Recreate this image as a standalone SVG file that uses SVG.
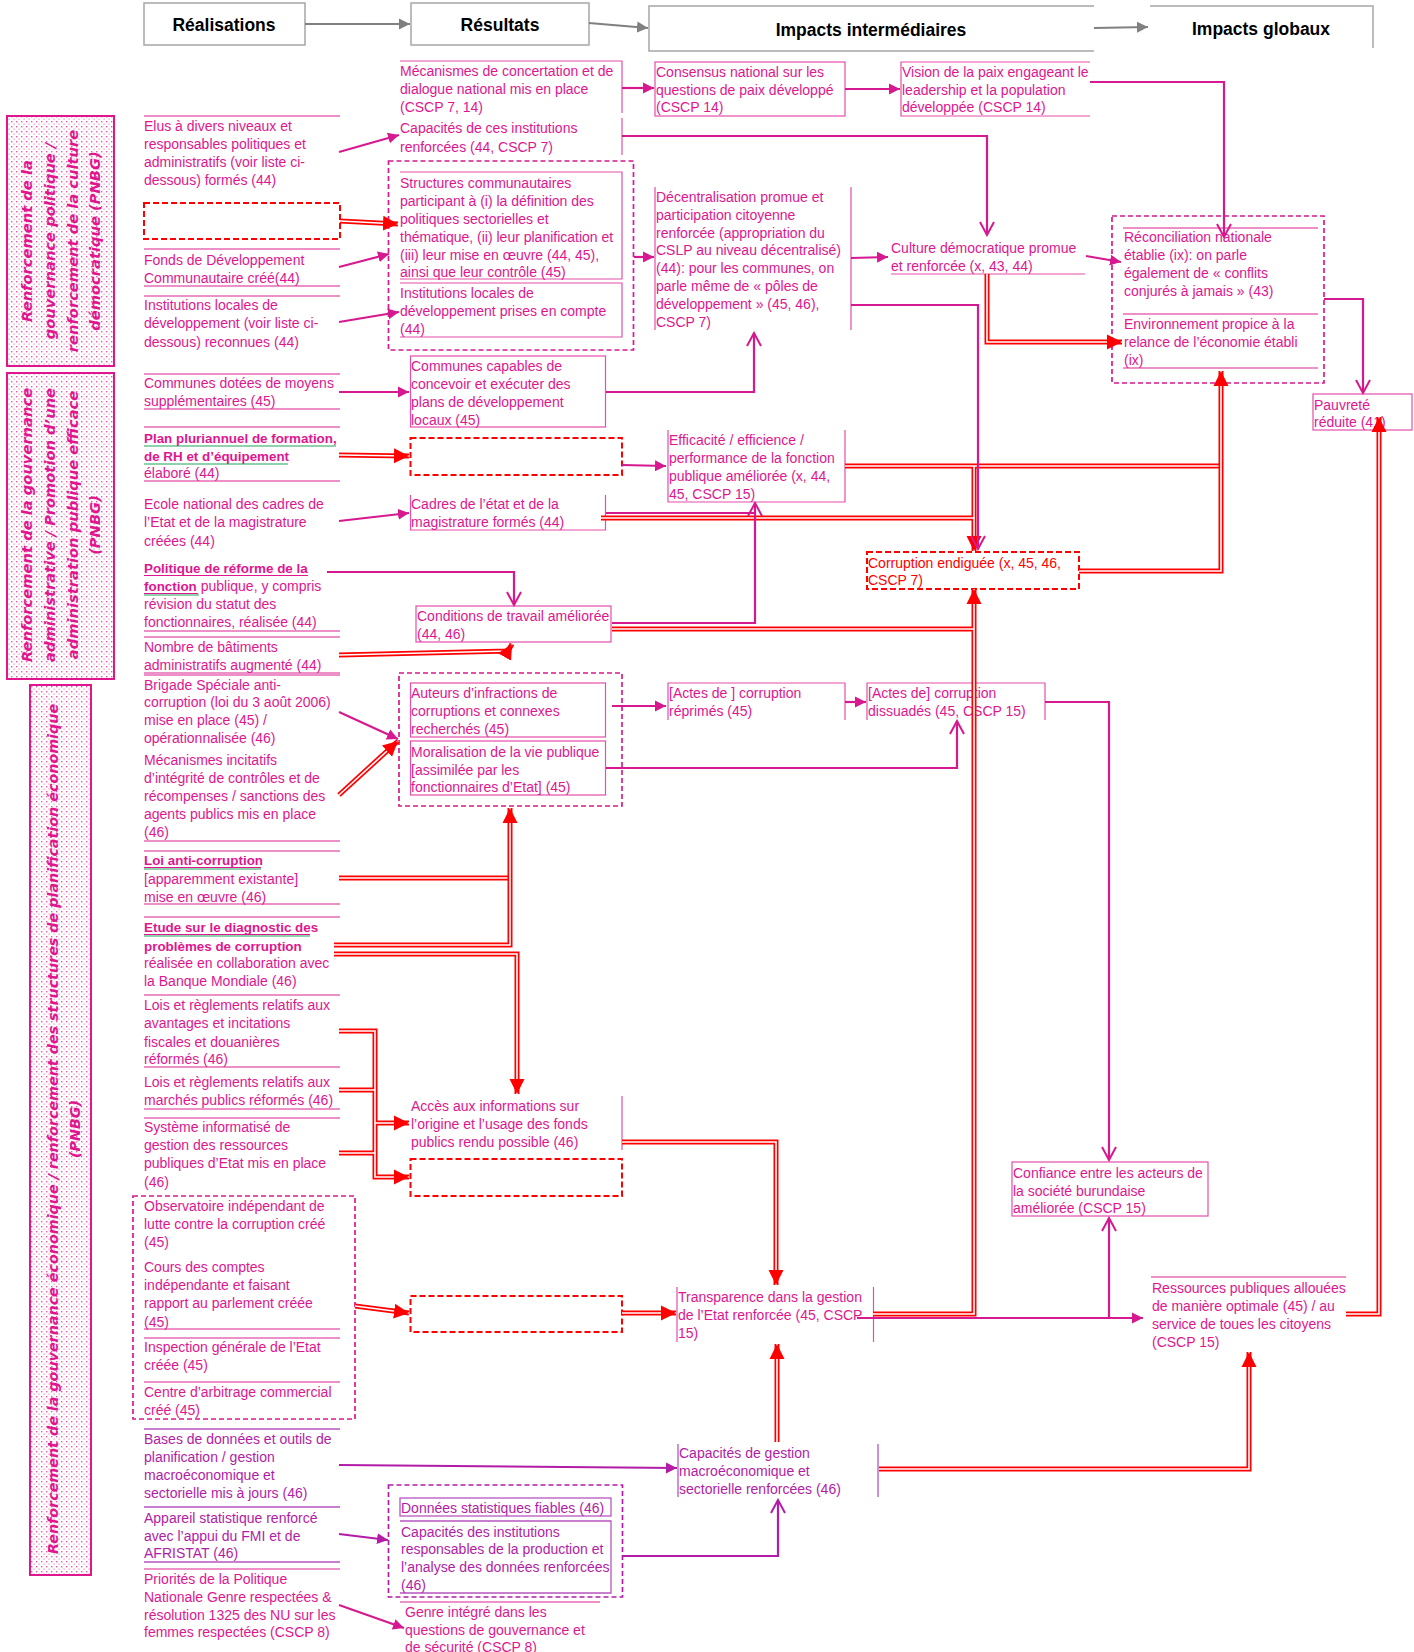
<svg xmlns="http://www.w3.org/2000/svg" width="1414" height="1652" viewBox="0 0 1414 1652">
<style>
.t{font-family:"Liberation Sans",Arial,sans-serif;font-size:14px;fill:#E0168F}
.pu{fill:#B21CA6}
.rt{fill:#FF0000}
.b{font-weight:bold;font-size:13.4px}
.hd{font-family:"Liberation Sans",Arial,sans-serif;font-size:17.5px;font-weight:bold;fill:#000;text-anchor:middle}
.bt{font-family:"DejaVu Sans",sans-serif;font-size:14.7px;font-weight:bold;font-style:italic;fill:#E0168F;text-anchor:middle}
.bt3{font-size:14.3px}
.ln{stroke:#E86CB6;stroke-width:1.3;fill:none}
.lp{stroke:#B856C0;stroke-width:1.3;fill:none}
.bx{stroke:#E44FA8;stroke-width:1.2;fill:none}
.hb{stroke:#A6A6A6;stroke-width:1.5;fill:#fff}
.dm{stroke:#D6198F;stroke-width:1.7;stroke-dasharray:5 3;fill:none}
.dp{stroke:#B21CA6;stroke-width:1.7;stroke-dasharray:5 3;fill:none}
.dr{stroke:#FF0000;stroke-width:2;stroke-dasharray:6 3;fill:none}
.m{stroke:#D6198F;stroke-width:2.2;fill:none}
.p{stroke:#B21CA6;stroke-width:2.2;fill:none}
.g{stroke:#808080;stroke-width:2.2;fill:none}
.r{stroke:#FF0000;stroke-width:5;fill:none}
.w{stroke:#FFFFFF;stroke-width:1.6;fill:none}
.h{stroke:none;fill:none}
.ug{stroke:#1FA35A;stroke-width:1.2}
.um{stroke:#E0168F;stroke-width:1.2}
</style>
<defs>
<pattern id="dots" width="5" height="5" patternUnits="userSpaceOnUse">
<rect width="5" height="5" fill="#fff"/>
<rect x="1" y="1" width="1.4" height="1.4" fill="#E65AAE"/>
<rect x="3.5" y="3.5" width="1.2" height="1.2" fill="#EE8CC6"/>
</pattern>
<marker id="mf" markerUnits="userSpaceOnUse" markerWidth="12" markerHeight="12" refX="11" refY="6" orient="auto"><path d="M0,0.5 L11,6 L0,11.5 Z" fill="#D6198F"/></marker>
<marker id="mo" markerUnits="userSpaceOnUse" markerWidth="16" markerHeight="18" refX="14" refY="8" orient="auto"><path d="M1,1 L14,8 L1,15" fill="none" stroke="#D6198F" stroke-width="2"/></marker>
<marker id="pf" markerUnits="userSpaceOnUse" markerWidth="12" markerHeight="12" refX="11" refY="6" orient="auto"><path d="M0,0.5 L11,6 L0,11.5 Z" fill="#B21CA6"/></marker>
<marker id="po" markerUnits="userSpaceOnUse" markerWidth="16" markerHeight="18" refX="14" refY="8" orient="auto"><path d="M1,1 L14,8 L1,15" fill="none" stroke="#B21CA6" stroke-width="2"/></marker>
<marker id="rf" markerUnits="userSpaceOnUse" markerWidth="16" markerHeight="16" refX="15" refY="8" orient="auto"><path d="M0,0.5 L15,8 L0,15.5 Z" fill="#FF0000"/></marker>
<marker id="gf" markerUnits="userSpaceOnUse" markerWidth="12" markerHeight="12" refX="11" refY="6" orient="auto"><path d="M0,0.5 L11,6 L0,11.5 Z" fill="#808080"/></marker>
</defs>
<rect width="1414" height="1652" fill="#fff"/>

<g id="header">
<rect class="hb" x="144" y="3" width="161" height="42"/>
<text class="hd" x="224" y="31">Réalisations</text>
<rect class="hb" x="411" y="3" width="178" height="42"/>
<text class="hd" x="500" y="31">Résultats</text>
<path class="hb" fill="none" d="M1094,6 L649,6 L649,51 L1094,51"/>
<text class="hd" x="871" y="36">Impacts intermédiaires</text>
<path class="hb" fill="none" d="M1150,6 L1373,6 L1373,48"/>
<text class="hd" x="1261" y="35">Impacts globaux</text>
<path class="g" d="M305,24 L410,24" marker-end="url(#gf)"/>
<path class="g" d="M589,23 L648,28" marker-end="url(#gf)"/>
<path class="g" d="M1094,28 L1148,27" marker-end="url(#gf)"/>
</g>

<g id="band1">
<rect x="7" y="116" width="107" height="250" fill="url(#dots)" stroke="#E0168F" stroke-width="2"/>
<text class="bt" transform="translate(0,241) rotate(-90)"><tspan x="0" y="32">Renforcement de la</tspan><tspan x="0" y="55">gouvernance politique /</tspan><tspan x="0" y="78">renforcement de la culture</tspan><tspan x="0" y="100">démocratique (PNBG)</tspan></text>
</g>
<g id="band2">
<rect x="7" y="373" width="107" height="306" fill="url(#dots)" stroke="#E0168F" stroke-width="2"/>
<text class="bt" transform="translate(0,525) rotate(-90)"><tspan x="0" y="32">Renforcement de la gouvernance</tspan><tspan x="0" y="55">administrative / Promotion d’une</tspan><tspan x="0" y="78">administration publique efficace</tspan><tspan x="0" y="100">(PNBG)</tspan></text>
</g>
<g id="band3">
<rect x="30" y="685" width="61" height="890" fill="url(#dots)" stroke="#E0168F" stroke-width="2"/>
<text class="bt bt3" transform="translate(0,1129) rotate(-90)"><tspan x="0" y="58">Renforcement de la gouvernance économique / renforcement des structures de planification économique</tspan><tspan x="0" y="80">(PNBG)</tspan></text>
</g>

<g id="realisations-lines">
<path class="ln" d="M144,116 H340 M144,249 H340 M144,286 H340 M144,296 H340 M144,374 H340 M144,409 H340 M144,427 H340 M144,481 H340 M144,631 H340 M144,637 H340 M144,673 H340 M144,675 H340 M144,841 H340 M144,851 H340 M144,904 H340 M144,917 H340 M144,995 H340 M144,1067 H340 M144,1109 H340 M144,1118 H340 M144,1329 H340 M144,1338 H340 M144,1382 H340"/>
<path class="lp" d="M144,1429 H340 M144,1507 H340 M144,1562 H340"/>
<path class="ln" d="M144,1569 H340"/>
</g>

<g id="n-elus"><text class="t"><tspan x="144" y="131">Elus à divers niveaux et</tspan><tspan x="144" y="149">responsables politiques et</tspan><tspan x="144" y="167">administratifs (voir liste ci-</tspan><tspan x="144" y="185">dessous) formés (44)</tspan></text></g>
<g id="n-vide1"><rect class="dr" x="144" y="203" width="196" height="36"/></g>
<g id="n-fonds"><text class="t"><tspan x="144" y="265">Fonds de Développement</tspan><tspan x="144" y="283">Communautaire créé(44)</tspan></text></g>
<g id="n-instloc"><text class="t"><tspan x="144" y="310">Institutions locales de</tspan><tspan x="144" y="328">développement (voir liste ci-</tspan><tspan x="144" y="347">dessous) reconnues  (44)</tspan></text></g>
<g id="n-communes"><text class="t"><tspan x="144" y="388">Communes dotées de moyens</tspan><tspan x="144" y="406">supplémentaires (45)</tspan></text></g>
<g id="n-plan"><text class="t"><tspan x="144" y="443" class="b">Plan pluriannuel de formation,</tspan><tspan x="144" y="461" class="b">de RH et d’équipement</tspan><tspan x="144" y="478">élaboré (44)</tspan></text>
<path class="ug" d="M144,446 H336"/><path class="ug" d="M144,464 H288"/></g>
<g id="n-ecole"><text class="t"><tspan x="144" y="509">Ecole national des cadres de</tspan><tspan x="144" y="527">l’Etat  et de la magistrature</tspan><tspan x="144" y="546">créées (44)</tspan></text></g>
<g id="n-politique"><text class="t"><tspan x="144" y="573" class="b">Politique de réforme de la</tspan><tspan x="144" y="591" class="b">fonction</tspan><tspan> publique, y compris</tspan><tspan x="144" y="609">révision du statut des</tspan><tspan x="144" y="627">fonctionnaires, réalisée (44)</tspan></text>
<path class="um" d="M144,575.5 H308 M144,593.5 H198"/><path class="ug" d="M144,595 H199"/></g>
<g id="n-batiments"><text class="t"><tspan x="144" y="652">Nombre de bâtiments</tspan><tspan x="144" y="670">administratifs augmenté (44)</tspan></text></g>
<g id="n-brigade"><text class="t"><tspan x="144" y="690">Brigade Spéciale anti-</tspan><tspan x="144" y="707">corruption (loi du 3 août 2006)</tspan><tspan x="144" y="725">mise en place (45) /</tspan><tspan x="144" y="743">opérationnalisée (46)</tspan></text></g>
<g id="n-incitatifs"><text class="t"><tspan x="144" y="765">Mécanismes incitatifs</tspan><tspan x="144" y="783">d’intégrité de contrôles et de</tspan><tspan x="144" y="801">récompenses / sanctions des</tspan><tspan x="144" y="819">agents publics  mis en place</tspan><tspan x="144" y="837">(46)</tspan></text></g>
<g id="n-loi"><text class="t"><tspan x="144" y="865" class="b">Loi anti-corruption</tspan><tspan x="144" y="884">[apparemment existante]</tspan><tspan x="144" y="902">mise en œuvre (46)</tspan></text>
<path class="um" d="M144,867.5 H261"/><path class="ug" d="M144,869 H261"/></g>
<g id="n-etude"><text class="t"><tspan x="144" y="932" class="b">Etude sur le diagnostic des</tspan><tspan x="144" y="951" class="b">problèmes de corruption</tspan><tspan x="144" y="968">réalisée en collaboration avec</tspan><tspan x="144" y="986">la Banque Mondiale (46)</tspan></text>
<path class="um" d="M144,934.5 H310"/><path class="ug" d="M144,936 H310"/></g>
<g id="n-lois-fisc"><text class="t"><tspan x="144" y="1010">Lois et règlements relatifs aux</tspan><tspan x="144" y="1028">avantages et incitations</tspan><tspan x="144" y="1047">fiscales et douanières</tspan><tspan x="144" y="1064">réformés (46)</tspan></text></g>
<g id="n-lois-march"><text class="t"><tspan x="144" y="1087">Lois et règlements relatifs aux</tspan><tspan x="144" y="1105">marchés publics réformés (46)</tspan></text></g>
<g id="n-systeme"><text class="t"><tspan x="144" y="1132">Système informatisé de</tspan><tspan x="144" y="1150">gestion des ressources</tspan><tspan x="144" y="1168">publiques d’Etat mis en place</tspan><tspan x="144" y="1187">(46)</tspan></text></g>
<g id="n-institutions-controle">
<rect class="dm" x="133" y="1196" width="222" height="223"/>
<text class="t"><tspan x="144" y="1211">Observatoire indépendant de</tspan><tspan x="144" y="1229">lutte contre la corruption créé</tspan><tspan x="144" y="1247">(45)</tspan></text>
<text class="t"><tspan x="144" y="1272">Cours des comptes</tspan><tspan x="144" y="1290">indépendante et faisant</tspan><tspan x="144" y="1308">rapport au parlement créée</tspan><tspan x="144" y="1327">(45)</tspan></text>
<text class="t"><tspan x="144" y="1352">Inspection générale de l’Etat</tspan><tspan x="144" y="1370">créée (45)</tspan></text>
<text class="t"><tspan x="144" y="1397">Centre d’arbitrage commercial</tspan><tspan x="144" y="1415">créé (45)</tspan></text>
</g>
<g id="n-bases"><text class="t pu"><tspan x="144" y="1444">Bases de données et outils de</tspan><tspan x="144" y="1462">planification / gestion</tspan><tspan x="144" y="1480">macroéconomique et</tspan><tspan x="144" y="1498">sectorielle mis à jours (46)</tspan></text></g>
<g id="n-appareil"><text class="t pu"><tspan x="144" y="1523">Appareil statistique renforcé</tspan><tspan x="144" y="1541">avec l’appui du FMI et de</tspan><tspan x="144" y="1558">AFRISTAT  (46)</tspan></text></g>
<g id="n-priorites"><text class="t"><tspan x="144" y="1584">Priorités de la Politique</tspan><tspan x="144" y="1602">Nationale Genre respectées &amp;</tspan><tspan x="144" y="1620">résolution 1325 des NU sur les</tspan><tspan x="144" y="1637">femmes respectées (CSCP 8)</tspan></text></g>

<!-- Résultats -->
<g id="n-mecanismes"><path class="bx" d="M400,61 H622 V113"/><text class="t"><tspan x="400" y="76">Mécanismes de concertation et de</tspan><tspan x="400" y="94">dialogue national mis en place</tspan><tspan x="400" y="112">(CSCP 7, 14)</tspan></text></g>
<g id="n-capacites-inst"><path class="bx" d="M622,118 V155"/><text class="t"><tspan x="400" y="133">Capacités de ces institutions</tspan><tspan x="400" y="152">renforcées (44, CSCP 7)</tspan></text></g>
<g id="n-groupe-communautaire">
<rect class="dm" x="388.5" y="161" width="245" height="189"/>
<path class="bx" d="M400,172 H622 V279 H400"/>
<text class="t"><tspan x="400" y="188">Structures communautaires</tspan><tspan x="400" y="206">participant à (i) la définition des</tspan><tspan x="400" y="224">politiques sectorielles et</tspan><tspan x="400" y="242">thématique, (ii) leur planification et</tspan><tspan x="400" y="260">(iii) leur mise en œuvre (44, 45),</tspan><tspan x="400" y="277">ainsi que leur contrôle (45)</tspan></text>
<path class="bx" d="M400,283 H622 V337 H400"/>
<text class="t"><tspan x="400" y="298">Institutions locales de</tspan><tspan x="400" y="316">développement prises en compte</tspan><tspan x="400" y="334">(44)</tspan></text>
</g>
<g id="n-communes-capables"><rect class="bx" x="410.5" y="356" width="195" height="71"/><text class="t"><tspan x="411" y="371">Communes capables de</tspan><tspan x="411" y="389">concevoir et exécuter des</tspan><tspan x="411" y="407">plans de développement</tspan><tspan x="411" y="425">locaux (45)</tspan></text></g>
<g id="n-vide2"><rect class="dr" x="410.5" y="438" width="211.5" height="37"/></g>
<g id="n-cadres"><path class="bx" d="M410.5,495 V530 H605.5 V495"/><text class="t"><tspan x="411" y="509">Cadres de l’état et de la</tspan><tspan x="411" y="527">magistrature formés (44)</tspan></text></g>
<g id="n-conditions"><rect class="bx" x="416" y="606" width="195" height="36"/><text class="t"><tspan x="417" y="621">Conditions de travail améliorée</tspan><tspan x="417" y="639">(44, 46)</tspan></text></g>
<g id="n-groupe-corruption">
<rect class="dm" x="399" y="673" width="223" height="133"/>
<rect class="bx" x="410.5" y="683" width="195" height="54"/>
<text class="t"><tspan x="411" y="698">Auteurs d’infractions de</tspan><tspan x="411" y="716">corruptions et connexes</tspan><tspan x="411" y="734">recherchés (45)</tspan></text>
<rect class="bx" x="410.5" y="741" width="195" height="54"/>
<text class="t"><tspan x="411" y="757">Moralisation de la vie publique</tspan><tspan x="411" y="775">[assimilée par les</tspan><tspan x="411" y="792">fonctionnaires d’Etat] (45)</tspan></text>
</g>
<g id="n-acces"><path class="bx" d="M622,1096 V1150"/><text class="t"><tspan x="411" y="1111">Accès aux informations sur</tspan><tspan x="411" y="1129">l’origine et l’usage des fonds</tspan><tspan x="411" y="1147">publics rendu possible (46)</tspan></text></g>
<g id="n-vide3"><rect class="dr" x="410.5" y="1159" width="211.5" height="37"/></g>
<g id="n-vide4"><rect class="dr" x="410.5" y="1296" width="211.5" height="36"/></g>
<g id="n-groupe-stat">
<rect class="dp" x="388.5" y="1485" width="234" height="112"/>
<rect class="lp" x="400" y="1498" width="211" height="18"/>
<text class="t pu"><tspan x="401" y="1513">Données statistiques fiables (46)</tspan></text>
<path class="lp" d="M400,1521 H611 V1593 H400"/>
<text class="t pu"><tspan x="401" y="1537">Capacités des institutions</tspan><tspan x="401" y="1554">responsables de la production et</tspan><tspan x="401" y="1572">l’analyse des données renforcées</tspan><tspan x="401" y="1590">(46)</tspan></text>
</g>
<g id="n-genre"><path class="ln" d="M400,1602 H600"/><text class="t"><tspan x="405" y="1617">Genre intégré dans les</tspan><tspan x="405" y="1635">questions de gouvernance et</tspan><tspan x="405" y="1652">de sécurité (CSCP 8)</tspan></text></g>

<!-- Impacts intermédiaires -->
<g id="n-consensus"><rect class="bx" x="655" y="62" width="190" height="54"/><text class="t"><tspan x="656" y="77">Consensus national sur les</tspan><tspan x="656" y="95">questions de paix développé</tspan><tspan x="656" y="112">(CSCP 14)</tspan></text></g>
<g id="n-vision"><path class="bx" d="M1090,62 H901 V116 H1090"/><text class="t"><tspan x="902" y="77">Vision de la paix engageant le</tspan><tspan x="902" y="95">leadership et la population</tspan><tspan x="902" y="112">développée (CSCP 14)</tspan></text></g>
<g id="n-decentralisation"><path class="bx" d="M655,187 V330 M851,187 V330"/><text class="t"><tspan x="656" y="202">Décentralisation promue  et</tspan><tspan x="656" y="220">participation citoyenne</tspan><tspan x="656" y="238">renforcée (appropriation du</tspan><tspan x="656" y="255">CSLP au niveau décentralisé)</tspan><tspan x="656" y="273">(44): pour les communes, on</tspan><tspan x="656" y="291">parle même de « pôles de</tspan><tspan x="656" y="309">développement » (45, 46),</tspan><tspan x="656" y="327">CSCP 7)</tspan></text></g>
<g id="n-culture"><path class="bx" d="M891,274 H1085"/><text class="t"><tspan x="891" y="253">Culture démocratique promue</tspan><tspan x="891" y="271">et renforcée (x, 43, 44)</tspan></text></g>
<g id="n-efficacite"><path class="bx" d="M668,430 V502 H845 V430"/><text class="t"><tspan x="669" y="445">Efficacité / efficience /</tspan><tspan x="669" y="463">performance de la fonction</tspan><tspan x="669" y="481">publique améliorée (x, 44,</tspan><tspan x="669" y="499">45, CSCP 15)</tspan></text></g>
<g id="n-corruption-endiguee"><rect class="dr" x="867" y="552" width="212" height="37"/><text class="t rt"><tspan x="868" y="568">Corruption endiguée (x, 45, 46,</tspan><tspan x="868" y="585">CSCP 7)</tspan></text></g>
<g id="n-reprimes"><path class="bx" d="M668,720 V683 H845 V720"/><text class="t"><tspan x="669" y="698">[Actes de ] corruption</tspan><tspan x="669" y="716">réprimés (45)</tspan></text></g>
<g id="n-dissuades"><path class="bx" d="M867,720 V683 H1045 V720"/><text class="t"><tspan x="868" y="698">[Actes de] corruption</tspan><tspan x="868" y="716">dissuadés  (45, CSCP 15)</tspan></text></g>
<g id="n-confiance"><rect class="bx" x="1012" y="1162" width="196" height="54"/><text class="t"><tspan x="1013" y="1178">Confiance entre les acteurs de</tspan><tspan x="1013" y="1196">la société burundaise</tspan><tspan x="1013" y="1213">améliorée (CSCP 15)</tspan></text></g>
<g id="n-transparence"><path class="bx" d="M677,1287 V1342 M873.5,1287 V1342"/><text class="t"><tspan x="678" y="1302">Transparence dans la gestion</tspan><tspan x="678" y="1320">de l’Etat renforcée (45, CSCP</tspan><tspan x="678" y="1338">15)</tspan></text></g>
<g id="n-capacites-gestion"><path class="lp" d="M678,1444 V1497 M878,1444 V1497"/><text class="t pu"><tspan x="679" y="1458">Capacités de gestion</tspan><tspan x="679" y="1476">macroéconomique et</tspan><tspan x="679" y="1494">sectorielle renforcées (46)</tspan></text></g>

<!-- Impacts globaux -->
<g id="n-reconciliation">
<rect class="dm" x="1112" y="216" width="212" height="167"/>
<path class="ln" d="M1123,228 H1318 M1123,314 H1318 M1123,368 H1318"/>
<text class="t"><tspan x="1124" y="242">Réconciliation nationale</tspan><tspan x="1124" y="260">établie (ix): on parle</tspan><tspan x="1124" y="278">également de « conflits</tspan><tspan x="1124" y="296">conjurés à jamais » (43)</tspan></text>
<text class="t"><tspan x="1124" y="329">Environnement propice à la</tspan><tspan x="1124" y="347">relance de l’économie établi</tspan><tspan x="1124" y="365">(ix)</tspan></text>
</g>
<g id="n-pauvrete"><rect class="bx" x="1313" y="394" width="99" height="36"/><text class="t"><tspan x="1314" y="410">Pauvreté</tspan><tspan x="1314" y="427">réduite (41)</tspan></text></g>
<g id="n-ressources"><path class="ln" d="M1151,1277 H1346"/><text class="t"><tspan x="1152" y="1293">Ressources publiques allouées</tspan><tspan x="1152" y="1311">de manière optimale (45)  / au</tspan><tspan x="1152" y="1329">service de toues les citoyens</tspan><tspan x="1152" y="1347">(CSCP 15)</tspan></text></g>

<g id="connectors">
<path class="r" d="M340,221 L398,224"/><path class="w" d="M340,221 L398,224"/><path class="h" d="M340,221 L398,224" marker-end="url(#rf)"/>
<path class="r" d="M339,455 L409,456"/><path class="w" d="M339,455 L409,456"/><path class="h" d="M339,455 L409,456" marker-end="url(#rf)"/>
<path class="r" d="M339,655 L508,651 L512,644"/><path class="w" d="M339,655 L508,651 L512,644"/><path class="h" d="M339,655 L508,651 L512,644" marker-end="url(#rf)"/>
<path class="r" d="M339,795 L398,741"/><path class="w" d="M339,795 L398,741"/><path class="h" d="M339,795 L398,741" marker-end="url(#rf)"/>
<path class="r" d="M339,878 L510,878"/><path class="w" d="M339,878 L510,878"/>
<path class="r" d="M334,945 L510,945 L510,808"/><path class="w" d="M334,945 L510,945 L510,808"/><path class="h" d="M334,945 L510,945 L510,808" marker-end="url(#rf)"/>
<path class="r" d="M334,954 L517,954 L517,1094"/><path class="w" d="M334,954 L517,954 L517,1094"/><path class="h" d="M334,954 L517,954 L517,1094" marker-end="url(#rf)"/>
<path class="r" d="M339,1031 L375,1031 L375,1177 L409,1177"/><path class="r" d="M339,1090 L375,1090 M339,1153 L375,1153 M375,1123 L409,1123"/>
<path class="w" d="M339,1031 L375,1031 L375,1177 L409,1177"/><path class="w" d="M339,1090 L375,1090 M339,1153 L375,1153 M375,1123 L409,1123"/>
<path class="h" d="M375,1177 L409,1177" marker-end="url(#rf)"/><path class="h" d="M375,1123 L409,1123" marker-end="url(#rf)"/>
<path class="r" d="M355,1306 L409,1313"/><path class="w" d="M355,1306 L409,1313"/><path class="h" d="M355,1306 L409,1313" marker-end="url(#rf)"/>
<path class="r" d="M622,1313 L676,1313"/><path class="w" d="M622,1313 L676,1313"/><path class="h" d="M622,1313 L676,1313" marker-end="url(#rf)"/>
<path class="r" d="M622,1142 L776,1142 L776,1285"/><path class="w" d="M622,1142 L776,1142 L776,1285"/><path class="h" d="M622,1142 L776,1142 L776,1285" marker-end="url(#rf)"/>
<path class="r" d="M777,1442 L777,1344"/><path class="w" d="M777,1442 L777,1344"/><path class="h" d="M777,1442 L777,1344" marker-end="url(#rf)"/>
<path class="r" d="M879,1469 L1249,1469 L1249,1352"/><path class="w" d="M879,1469 L1249,1469 L1249,1352"/><path class="h" d="M879,1469 L1249,1469 L1249,1352" marker-end="url(#rf)"/>
<path class="r" d="M1346,1314 L1379,1314 L1379,417"/><path class="w" d="M1346,1314 L1379,1314 L1379,417"/><path class="h" d="M1346,1314 L1379,1314 L1379,417" marker-end="url(#rf)"/>
<path class="r" d="M873,1314 L974,1314 L974,589"/><path class="r" d="M612,629 L974,629"/>
<path class="w" d="M873,1314 L974,1314 L974,589"/><path class="w" d="M612,629 L974,629"/>
<path class="h" d="M873,1314 L974,1314 L974,589" marker-end="url(#rf)"/>
<path class="r" d="M845,466 L1221,466"/><path class="r" d="M601,518 L974,518"/><path class="r" d="M974,466 L974,551"/>
<path class="w" d="M845,466 L1221,466"/><path class="w" d="M601,518 L974,518"/><path class="w" d="M974,466 L974,551"/>
<path class="h" d="M974,466 L974,551" marker-end="url(#rf)"/>
<path class="r" d="M1079,571 L1221,571 L1221,371"/><path class="w" d="M1079,571 L1221,571 L1221,371"/><path class="h" d="M1079,571 L1221,571 L1221,371" marker-end="url(#rf)"/>
<path class="r" d="M987,274 L987,342 L1122,342"/><path class="w" d="M987,274 L987,342 L1122,342"/><path class="h" d="M987,274 L987,342 L1122,342" marker-end="url(#rf)"/>

<path class="m" d="M339,152 L399,135" marker-end="url(#mf)"/>
<path class="m" d="M339,267 L389,254" marker-end="url(#mf)"/>
<path class="m" d="M339,322 L399,312" marker-end="url(#mf)"/>
<path class="m" d="M622,88 L654,88" stroke-width="3" marker-end="url(#mf)"/>
<path class="m" d="M845,89 L900,89" stroke-width="3" marker-end="url(#mf)"/>
<path class="m" d="M1090,82 L1224,82 L1224,237" marker-end="url(#mo)"/>
<path class="m" d="M622,136 L987,136 L987,235" marker-end="url(#mo)"/>
<path class="m" d="M634,257 L654,257" marker-end="url(#mf)"/>
<path class="m" d="M851,258 L888,257" stroke-width="3" marker-end="url(#mf)"/>
<path class="m" d="M1086,256 L1121,262" stroke-width="3" marker-end="url(#mf)"/>
<path class="m" d="M1324,299 L1363,299 L1363,393" marker-end="url(#mo)"/>
<path class="m" d="M339,392 L409,392" marker-end="url(#mf)"/>
<path class="m" d="M606,392 L754,392 L754,333" marker-end="url(#mo)"/>
<path class="m" d="M851,305 L978,305 L978,549" marker-end="url(#mo)"/>
<path class="m" d="M622,465 L666,466" marker-end="url(#mf)"/>
<path class="m" d="M339,521 L409,513" marker-end="url(#mf)"/>
<path class="m" d="M606,513 L755,513"/>
<path class="m" d="M612,623 L755,623 L755,503" marker-end="url(#mo)"/>
<path class="m" d="M327,572 L514,572 L514,605" marker-end="url(#mo)"/>
<path class="m" d="M339,712 L398,739" marker-end="url(#mf)"/>
<path class="m" d="M612,706 L666,706" marker-end="url(#mf)"/>
<path class="m" d="M845,702 L866,702" marker-end="url(#mf)"/>
<path class="m" d="M606,768 L957,768 L957,721" marker-end="url(#mo)"/>
<path class="m" d="M1045,702 L1109,702 L1109,1160" marker-end="url(#mo)"/>
<path class="m" d="M857,1318 L1143,1318" stroke-width="3" marker-end="url(#mf)"/>
<path class="m" d="M1109,1318 L1109,1218" marker-end="url(#mo)"/>
<path class="m" d="M339,1605 L404,1628" marker-end="url(#mf)"/>
<path class="p" d="M339,1465 L677,1468" stroke-width="3" marker-end="url(#pf)"/>
<path class="p" d="M339,1534 L388,1540" marker-end="url(#pf)"/>
<path class="p" d="M622,1556 L778,1556 L778,1500" marker-end="url(#po)"/>
</g>
</svg>
